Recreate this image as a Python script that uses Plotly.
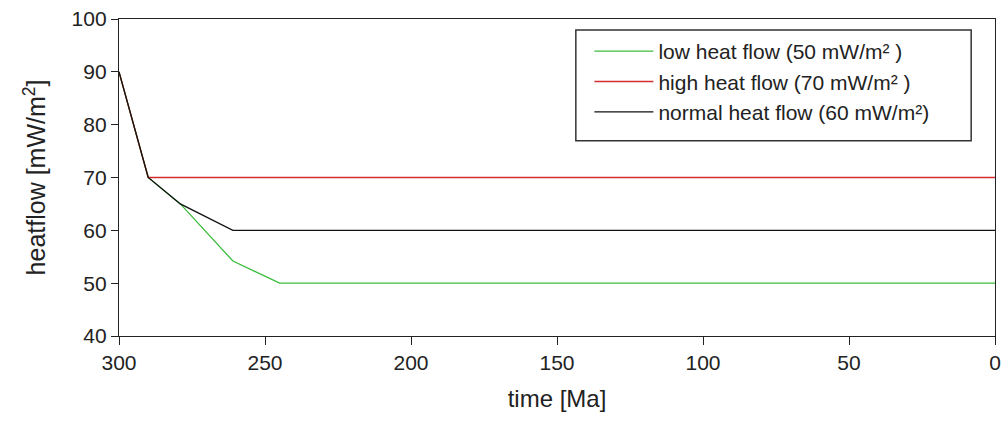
import plotly.graph_objects as go

# data
time_low = [300, 290, 279, 261, 245, 0]
flow_low = [90, 70, 65, 54.2, 50, 50]
time_high = [300, 290, 0]
flow_high = [90, 70, 70]
time_normal = [300, 290, 279, 261, 0]
flow_normal = [90, 70, 65, 60, 60]

names = ["low heat flow (50 mW/m² )", "high heat flow (70 mW/m² )", "normal heat flow (60 mW/m²)"]
colors = ["#3cbc3c", "#d22c2c", "#111111"]

fig = go.Figure()
for t, f, n, c in zip([time_low, time_high, time_normal], [flow_low, flow_high, flow_normal], names, colors):
    fig.add_trace(go.Scatter(x=t, y=f, mode="lines", name=n, line=dict(color=c, width=1.3)))

font = "Liberation Sans, Arial, sans-serif"
fig.update_layout(
    width=1008, height=430,
    margin=dict(l=119, r=7, t=18, b=94),
    plot_bgcolor="white", paper_bgcolor="white",
    font=dict(family=font, color="#222", size=20),
    showlegend=True,
    legend=dict(
        x=0.537, y=0.962, xanchor="left", yanchor="top",
        borderwidth=0, bgcolor="rgba(0,0,0,0)",
        font=dict(size=21, family=font, color="#222"),
        itemwidth=59,
        traceorder="normal",
    ),
    shapes=[dict(type="rect", xref="paper", yref="paper",
                 x0=0.5215, x1=0.9728, y0=0.616, y1=0.965,
                 line=dict(color="#333", width=1.5), layer="below")],
    xaxis=dict(
        range=[300, 0], tickvals=[300, 250, 200, 150, 100, 50, 0],
        showgrid=False, zeroline=False,
        showline=True, linecolor="#222", linewidth=1.3, mirror=True,
        ticks="outside", ticklen=8, tickcolor="#222", tickwidth=1.3,
        tickfont=dict(size=21), title=dict(text="time [Ma]", font=dict(size=24), standoff=16),
    ),
    yaxis=dict(
        range=[40, 100], tickvals=[40, 50, 60, 70, 80, 90, 100],
        showgrid=False, zeroline=False,
        showline=True, linecolor="#222", linewidth=1.3, mirror=True,
        ticks="outside", ticklen=7, tickcolor="#222", tickwidth=1.3,
        tickfont=dict(size=21), title=dict(text="heatflow [mW/m<sup>2</sup>]", font=dict(size=25), standoff=18),
    ),
)
fig.write_html("out.html", config={"displayModeBar": False},
               post_script="document.body.style.margin='0';document.body.style.overflow='hidden';")
